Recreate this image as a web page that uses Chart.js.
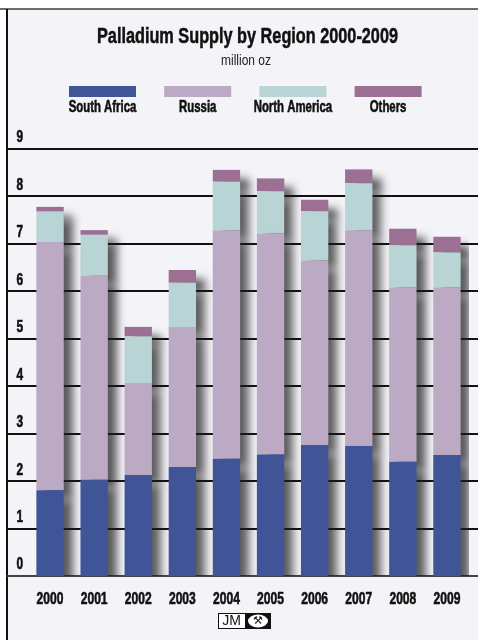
<!DOCTYPE html>
<html lang="en">
<head>
    <meta charset="UTF-8">
    <title>Palladium Supply by Region 2000-2009</title>
    <script src="https://cdn.jsdelivr.net/npm/chart.js"></script>
    <style>
        body {
            margin: 0;
            padding: 0;
            background: #ffffff;
        }
        .wrap {
            width: 478px;
            height: 640px;
            position: relative;
        }
    </style>
</head>
<body>
    <div class="wrap">
        <canvas id="pdChart" width="478" height="640"></canvas>
    </div>

    <script>
        // data (million oz)
        const years = ['2000', '2001', '2002', '2003', '2004', '2005', '2006', '2007', '2008', '2009'];
        const southAfrica = [1.81, 2.03, 2.13, 2.30, 2.47, 2.56, 2.76, 2.74, 2.41, 2.55];
        const russia      = [5.23, 4.30, 1.94, 2.95, 4.81, 4.66, 3.89, 4.55, 3.67, 3.53];
        const northAmerica = [0.64, 0.86, 0.98, 0.93, 1.03, 0.89, 1.04, 0.99, 0.89, 0.74];
        const others      = [0.10, 0.10, 0.20, 0.27, 0.25, 0.27, 0.24, 0.29, 0.35, 0.33];
        const yTicks = [0, 1, 2, 3, 4, 5, 6, 7, 8, 9];

        const chartTitle = 'Palladium Supply by Region 2000-2009';
        const chartUnit = 'million oz';

        // no condensed face installed, so squeeze Liberation Sans horizontally
        const FONT = '"Liberation Sans", Arial, sans-serif';
        function squeezeText(ctx, text, x, y, font, sx, align, heavy) {
            ctx.save();
            ctx.translate(x, y);
            ctx.scale(sx, 1);
            ctx.font = font;
            ctx.textAlign = align || 'center';
            ctx.textBaseline = 'middle';
            ctx.fillText(text, 0, 0);
            if (heavy) {
                // a thin stroke makes it look like the heavier original face
                ctx.strokeStyle = ctx.fillStyle;
                ctx.lineWidth = heavy;
                ctx.strokeText(text, 0, 0);
            }
            ctx.restore();
        }

        // frame + background
        const framePlugin = {
            id: 'frame',
            beforeDraw(chart) {
                const ctx = chart.ctx;
                ctx.save();
                ctx.fillStyle = '#ffffff';
                ctx.fillRect(0, 0, chart.width, chart.height);
                ctx.fillStyle = '#f3f3f8';
                ctx.fillRect(7, 9, chart.width - 7, chart.height - 9);
                ctx.fillStyle = '#6b6b6b';
                ctx.fillRect(0, 8, chart.width, 2);
                ctx.fillStyle = '#111111';
                ctx.fillRect(6, 9, 2, chart.height - 9);
                ctx.restore();
            }
        };

        // grid lines across the whole panel, using the y scale
        const gridPlugin = {
            id: 'fullGrid',
            beforeDatasetsDraw(chart) {
                const ctx = chart.ctx;
                const y = chart.scales.y;
                ctx.save();
                yTicks.forEach(v => {
                    const py = Math.round(y.getPixelForValue(v));
                    ctx.fillStyle = v === 0 ? '#444444' : '#111111';
                    ctx.fillRect(7, py - 1, chart.width - 7, 2);
                });
                ctx.restore();
            }
        };

        // soft drop shadow behind the bars
        const shadowPlugin = {
            id: 'barShadow',
            beforeDatasetDraw(chart) {
                const ctx = chart.ctx;
                ctx.save();
                ctx.shadowColor = 'rgba(30, 30, 30, 0.72)';
                ctx.shadowBlur = 9;
                ctx.shadowOffsetX = 9;
                ctx.shadowOffsetY = 9;
            },
            afterDatasetDraw(chart) {
                chart.ctx.restore();
            }
        };

        // titles, legend, tick labels and the JM logo
        const textPlugin = {
            id: 'texts',
            afterDraw(chart) {
                const ctx = chart.ctx;
                ctx.save();
                ctx.fillStyle = '#111111';

                // title: fit to the reference width
                ctx.font = 'bold 22px ' + FONT;
                ctx.textAlign = 'center';
                ctx.textBaseline = 'middle';
                ctx.fillText(chartTitle, 247.5, 37, 301);
                ctx.strokeStyle = '#111111';
                ctx.lineWidth = 0.5;
                ctx.strokeText(chartTitle, 247.5, 37, 301);
                ctx.fillStyle = '#222222';
                ctx.font = '14px ' + FONT;
                ctx.fillText(chartUnit, 246, 61, 50);

                // legend: colour bar with the label underneath
                chart.data.datasets.forEach((ds, i) => {
                    const cx = 102.5 + i * 95.2;
                    ctx.fillStyle = ds.backgroundColor;
                    ctx.fillRect(cx - 33.5, 86, 67, 11);
                    ctx.fillStyle = '#111111';
                    squeezeText(ctx, ds.label, cx, 107.5, 'bold 17px ' + FONT, 0.67, 'center', 0.6);
                });

                // y tick labels sit above their grid lines
                const ys = chart.scales.y;
                yTicks.forEach(v => {
                    squeezeText(ctx, String(v), 16.5, ys.getPixelForValue(v) - 11,
                        'bold 16px ' + FONT, 0.74, 'left', 0.6);
                });

                // x tick labels
                const xs = chart.scales.x;
                years.forEach((yr, i) => {
                    squeezeText(ctx, yr, xs.getPixelForValue(i), 599.5,
                        'bold 17px ' + FONT, 0.71, 'center', 0.6);
                });

                // JM logo
                ctx.fillStyle = '#ffffff';
                ctx.fillRect(218, 613, 27, 16);
                ctx.strokeStyle = '#111111';
                ctx.lineWidth = 1;
                ctx.strokeRect(218.5, 613.5, 52, 15);
                ctx.fillStyle = '#111111';
                squeezeText(ctx, 'JM', 231.5, 621.5, '14px ' + FONT, 1);
                ctx.fillRect(245, 613, 26, 16);
                ctx.fillStyle = '#ffffff';
                ctx.beginPath();
                ctx.ellipse(258, 621, 10, 6.5, 0, 0, Math.PI * 2);
                ctx.fill();
                ctx.fillStyle = '#111111';
                ctx.font = '11px "DejaVu Sans", sans-serif';
                ctx.textAlign = 'center';
                ctx.fillText('\u2692', 258, 621.5);
                ctx.restore();
            }
        };

        const ctx = document.getElementById('pdChart').getContext('2d');
        new Chart(ctx, {
            type: 'bar',
            data: {
                labels: years,
                datasets: [
                    { label: 'South Africa', data: southAfrica, backgroundColor: '#3f5597' },
                    { label: 'Russia', data: russia, backgroundColor: '#bcaac4' },
                    { label: 'North America', data: northAmerica, backgroundColor: '#b9d4d4' },
                    { label: 'Others', data: others, backgroundColor: '#9c7093' }
                ]
            },
            options: {
                responsive: false,
                animation: false,
                devicePixelRatio: 1,
                layout: { padding: { left: 0, right: 9, top: 149, bottom: 0 } },
                datasets: {
                    bar: {
                        categoryPercentage: 1,
                        barPercentage: 0.62,
                        borderWidth: 0
                    }
                },
                plugins: {
                    legend: { display: false },
                    tooltip: { enabled: false },
                    title: { display: false }
                },
                scales: {
                    x: {
                        stacked: true,
                        grid: { display: false, drawTicks: false },
                        border: { display: false },
                        ticks: { display: false },
                        afterFit(scale) { scale.height = 64; }
                    },
                    y: {
                        stacked: true,
                        min: 0,
                        max: 9,
                        grid: { display: false, drawTicks: false },
                        border: { display: false },
                        ticks: { display: false, stepSize: 1 },
                        afterFit(scale) { scale.width = 28; }
                    }
                }
            },
            plugins: [framePlugin, gridPlugin, shadowPlugin, textPlugin]
        });
    </script>
</body>
</html>
